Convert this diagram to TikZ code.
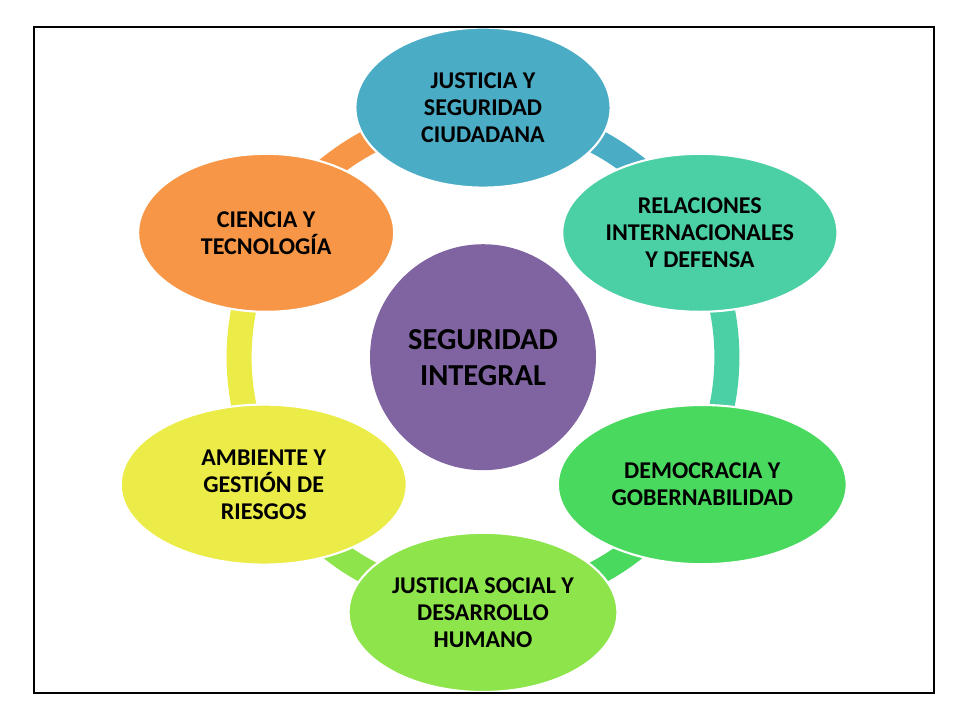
\documentclass[tikz,border=0pt]{standalone}
\usepackage{fontspec}
\setmainfont{Carlito}
\usepackage{tikz}
\usetikzlibrary{shapes}
\usetikzlibrary{shapes.geometric}
\usetikzlibrary{calc}
\usetikzlibrary{backgrounds}
\usetikzlibrary{positioning}
\definecolor{azul}{RGB}{75,172,198}
\definecolor{turquesa}{RGB}{75,207,165}
\definecolor{verde}{RGB}{74,217,95}
\definecolor{verdeclaro}{RGB}{142,228,75}
\definecolor{amarillo}{RGB}{236,236,72}
\definecolor{naranja}{RGB}{247,150,70}
\definecolor{morado}{RGB}{128,100,162}
\newcommand{\ringarc}[3] {
\draw[ring, #1] ($ (integral)!6.1cm!(#2) $) to[bend left=30, looseness=0.91] ($ (integral)!6.1cm!(#3) $);
}

\begin{document}
\begin{tikzpicture}[petal/.style={ellipse, draw=white, line width=1.5pt, inner sep=0pt, align=center, text=black,
                    font=\fontsize{17.1}{19.2}\selectfont\bfseries},
                    ring/.style={line width=0.625cm}]
      \useasboundingbox (-12.075,-9.05) rectangle (11.925,8.95);
      \node[circle, fill=morado, minimum size=5.65cm, align=center,
            font=\fontsize{21.7}{25.6}\selectfont\bfseries] (integral) at (0,0.02) {SEGURIDAD\\INTEGRAL};
      \node[petal, fill=azul, minimum width=6.38cm, minimum height=4cm] (justicia) at (90:6.26) {JUSTICIA Y\\SEGURIDAD\\CIUDADANA};
      \node[petal, fill=turquesa, minimum width=6.88cm, minimum height=3.95cm] (relaciones) at (30:6.26) {RELACIONES\\INTERNACIONALES\\Y DEFENSA};
      \node[petal, fill=verde, minimum width=7.22cm, minimum height=3.98cm] (democracia) at (-30:6.33) {DEMOCRACIA Y\\GOBERNABILIDAD};
      \node[petal, fill=verdeclaro, minimum width=6.72cm, minimum height=3.98cm] (social) at (-90:6.36) {JUSTICIA SOCIAL Y\\DESARROLLO\\HUMANO};
      \node[petal, fill=amarillo, minimum width=7.15cm, minimum height=4cm] (ambiente) at (-150:6.33) {AMBIENTE Y\\GESTIÓN DE\\RIESGOS};
      \node[petal, fill=naranja, minimum width=6.4cm, minimum height=3.95cm] (ciencia) at (150:6.26) {CIENCIA Y\\TECNOLOGÍA};
      \begin{scope}[on background layer]
        \ringarc{azul}{justicia}{relaciones}
        \ringarc{turquesa}{relaciones}{democracia}
        \ringarc{verde}{democracia}{social}
        \ringarc{verdeclaro}{social}{ambiente}
        \ringarc{amarillo}{ambiente}{ciencia}
        \ringarc{naranja}{ciencia}{justicia}
      \end{scope}
      \draw[line width=0.8pt] (-11.225,-8.375) rectangle (11.275,8.275);
\end{tikzpicture}
\end{document}
